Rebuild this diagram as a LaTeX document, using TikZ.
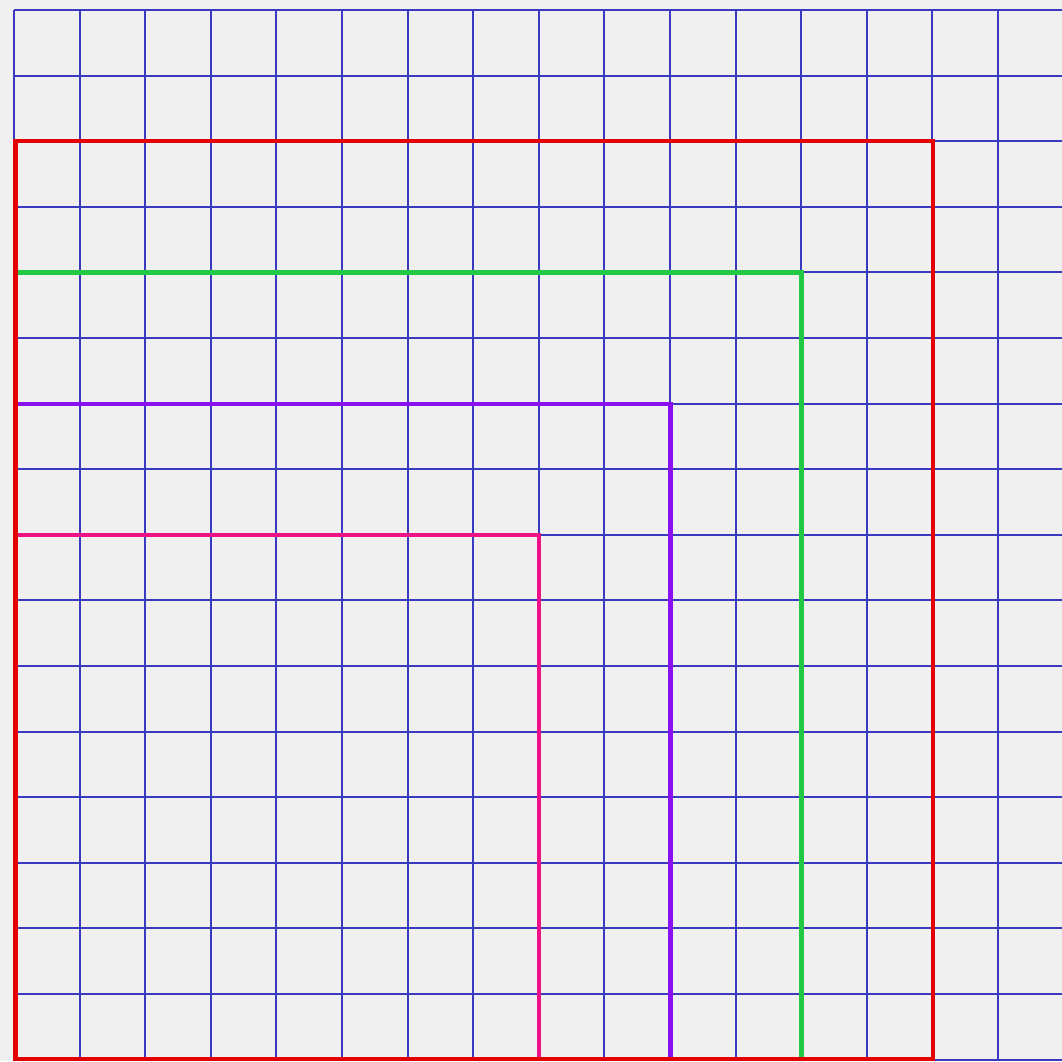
\documentclass[tikz,border=0pt]{standalone}
\definecolor{bg}{HTML}{F0F0F0}
\definecolor{gridblue}{HTML}{3A3AC0}
\definecolor{redline}{HTML}{E40000}
\definecolor{greenline}{HTML}{22C944}
\definecolor{purpleline}{HTML}{8A10F0}
\definecolor{pinkline}{HTML}{EE1286}
\begin{document}
\begin{tikzpicture}[x=0.75pt,y=-0.75pt,
  gridline/.style={draw=gridblue,line width=1.5pt},
  outline/.style={line width=3.4pt,line join=miter}]
\fill[bg] (0,0) rectangle (1062,1061);
\useasboundingbox (0,0) rectangle (1062,1061);
\begin{scope}
\clip (0,0) rectangle (1062,1061);
\foreach \i in {0,...,16}{
  \draw[gridline] ({14+\i*65.6},10) -- ({14+\i*65.6},1060);
  \draw[gridline] (14,{10+\i*65.6}) -- (1064,{10+\i*65.6});
}
\draw[outline,pinkline] (14,535) -- (539,535) -- (539,1059);
\draw[outline,purpleline] (14,404) -- (670.4,404) -- (670.4,1059);
\draw[outline,greenline] (14,272.4) -- (801.6,272.4) -- (801.6,1059);
\draw[outline,redline] (15.5,141.2) rectangle (932.8,1058.8);
\end{scope}
\end{tikzpicture}
\end{document}
